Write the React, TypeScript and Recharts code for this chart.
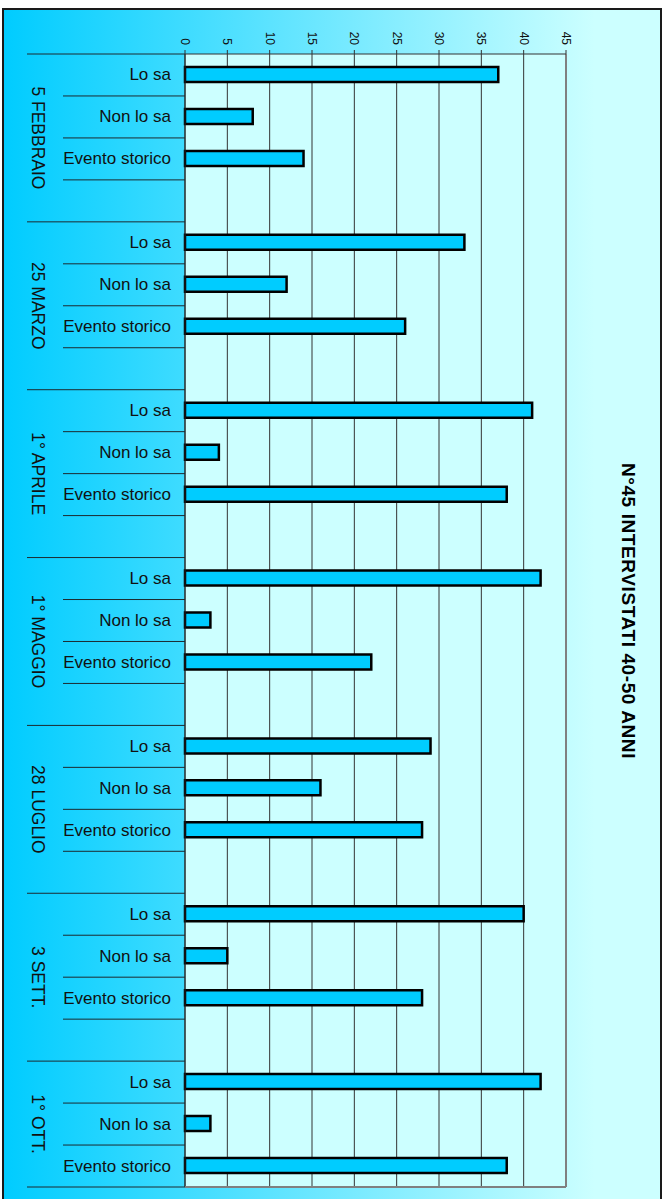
import { BarChart, Bar, XAxis, YAxis, CartesianGrid, ReferenceLine } from 'recharts'

const dates = ['5 FEBBRAIO', '25 MARZO', '1° APRILE', '1° MAGGIO', '28 LUGLIO', '3 SETT.', '1° OTT.']
const answers = ['Lo sa', 'Non lo sa', 'Evento storico']
const loSa = [37, 33, 41, 42, 29, 40, 42]
const nonLoSa = [8, 12, 4, 3, 16, 5, 3]
const eventoStorico = [14, 26, 38, 22, 28, 28, 38]
const valueTicks = [0, 5, 10, 15, 20, 25, 30, 35, 40, 45]
const title = 'N°45 INTERVISTATI 40-50 ANNI'

interface Row {
  key: string
  group: number
  pos: number
  label: string
  value: number | null
}

// one band per answer, plus an empty band between dates (Excel style)
const rows: Row[] = []
dates.forEach((_, g) => {
  const vals = [loSa[g], nonLoSa[g], eventoStorico[g]]
  answers.forEach((a, i) => rows.push({ key: `${g}-${i}`, group: g, pos: i, label: a, value: vals[i] }))
  if (g < dates.length - 1) rows.push({ key: `${g}-gap`, group: g, pos: 3, label: '', value: null })
})

const W = 666
const H = 1199
const FONT = '"Liberation Sans", Arial, sans-serif'
const PLOT_LEFT = 185
const PLOT_TOP = 54
const PLOT_BOTTOM = 1187
const PLOT_RIGHT = 566
const SLOT = (PLOT_BOTTOM - PLOT_TOP) / rows.length
const LINE = '#1c2a30'

function CategoryTick(props: any) {
  const { y, payload } = props
  const row = rows.find((r) => r.key === payload.value)
  if (!row) return null
  const last = row.key === rows[rows.length - 1].key
  const groupEnd = row.pos === 3 || last
  const bottom = y + SLOT / 2
  const groupSize = row.group === dates.length - 1 ? 3 : 4
  const groupMid = y - 1.5 * SLOT + (groupSize * SLOT) / 2
  return (
    <g>
      {row.key === rows[0].key && (
        <line x1={27} x2={PLOT_LEFT} y1={y - SLOT / 2} y2={y - SLOT / 2} stroke={LINE} />
      )}
      <line x1={groupEnd ? 27 : 63} x2={PLOT_LEFT} y1={bottom} y2={bottom} stroke={LINE} />
      {last && <line x1={PLOT_LEFT} x2={PLOT_RIGHT} y1={bottom} y2={bottom} stroke="#808080" strokeWidth={2} />}
      {row.label && (
        <text x={171} y={y} textAnchor="end" dominantBaseline="central" fontSize={17} fontFamily={FONT} fill="#111">
          {row.label}
        </text>
      )}
      {row.pos === 1 && (
        <text
          x={38}
          y={groupMid}
          transform={`rotate(90 38 ${groupMid})`}
          textAnchor="middle"
          dominantBaseline="central"
          fontSize={17.5}
          fontFamily={FONT}
          fill="#111"
        >
          {dates[row.group]}
        </text>
      )}
    </g>
  )
}

function ValueTick(props: any) {
  const { x, y, payload } = props
  return (
    <text
      x={x}
      y={y}
      transform={`rotate(90 ${x} ${y})`}
      textAnchor="end"
      dominantBaseline="central"
      fontSize={12}
      fontFamily={FONT}
      fill="#111"
    >
      {payload.value}
    </text>
  )
}

export default function App() {
  return (
    <div style={{ position: 'absolute', left: 0, top: 0, width: W, height: H, background: '#fff', overflow: 'hidden' }}>
      <div
        style={{
          position: 'absolute',
          left: 2,
          top: 8,
          width: 660,
          height: 1300,
          boxSizing: 'border-box',
          border: '2px solid #1a1a1a',
          background: 'linear-gradient(to right, #00CCFF 0%, #CCFFFF 90%)',
        }}
      />
      <div style={{ position: 'absolute', left: 0, top: 0 }}>
        <BarChart
          width={W}
          height={H}
          layout="vertical"
          data={rows}
          margin={{ top: 0, right: W - PLOT_RIGHT, bottom: H - PLOT_BOTTOM, left: 0 }}
        >
          <CartesianGrid horizontal={false} stroke="#333" fill="#CCFFFF" fillOpacity={1} />
          <XAxis
            type="number"
            orientation="top"
            domain={[0, 45]}
            ticks={valueTicks}
            height={PLOT_TOP}
            tickSize={4}
            tickMargin={5}
            stroke="#333"
            tick={<ValueTick />}
            interval={0}
          />
          <YAxis
            type="category"
            dataKey="key"
            width={PLOT_LEFT}
            tickLine={false}
            stroke="#222"
            tick={<CategoryTick />}
            interval={0}
          />
          <ReferenceLine x={45} stroke="#808080" strokeWidth={2} />
          <Bar dataKey="value" fill="#00CCFF" stroke="#000" strokeWidth={2.5} barSize={15} isAnimationActive={false} />
        </BarChart>
      </div>
      <svg width={W} height={H} style={{ position: 'absolute', left: 0, top: 0, pointerEvents: 'none' }}>
        <text
          x={628}
          y={611}
          transform="rotate(90 628 611)"
          textAnchor="middle"
          dominantBaseline="central"
          fontSize={19}
          fontWeight="bold"
          letterSpacing={0.6}
          fontFamily={FONT}
          fill="#000"
        >
          {title}
        </text>
      </svg>
    </div>
  )
}
